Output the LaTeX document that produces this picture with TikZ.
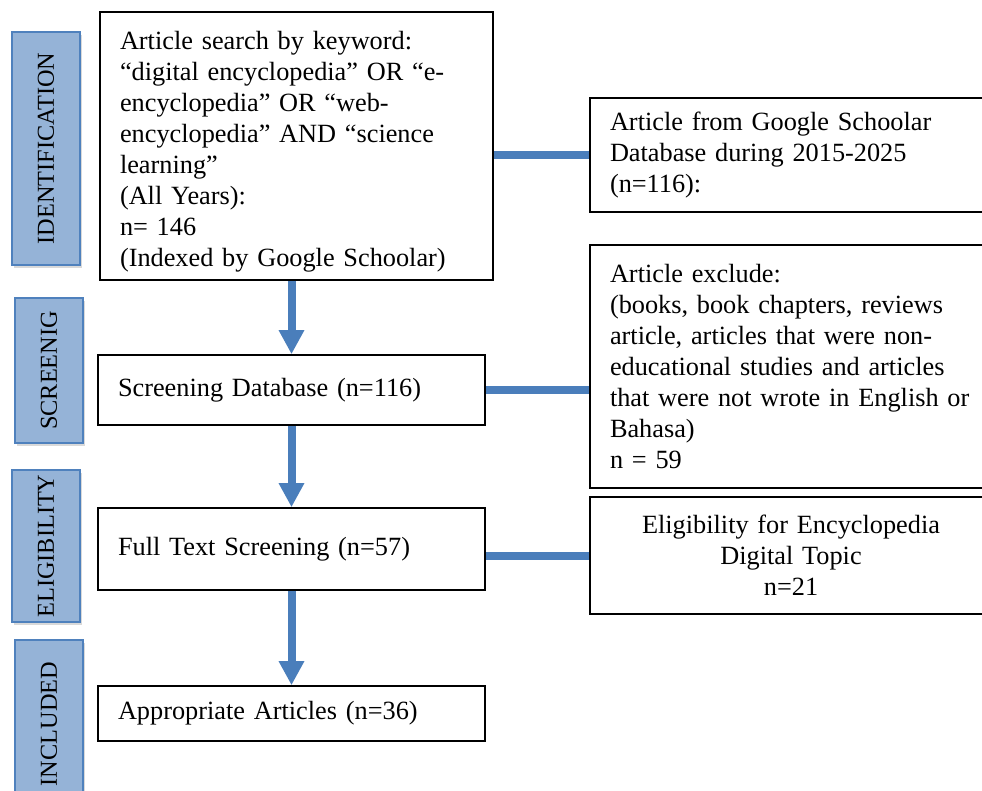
\documentclass[tikz,border=0pt]{standalone}
\usepackage{fontspec}
\setmainfont{Liberation Serif}
\usepackage{graphicx}
\usetikzlibrary{arrows.meta,shadows}
\definecolor{sidefill}{HTML}{95B3D7}
\definecolor{sideedge}{HTML}{4F81BD}
\definecolor{flowblue}{HTML}{4A7EBB}
\tikzset{%
    stage/.style={%
        draw=sideedge, line width=1.5pt, fill=sidefill, inner sep=0pt,
        drop shadow={shadow xshift=2pt, shadow yshift=-3pt, opacity=0.3},
        font=\fontsize{24.3}{28}\selectfont
    },
    box/.style={%
        draw, line width=1.6pt, inner xsep=20pt, inner ysep=0pt, align=left,
        font=\fontsize{26.3}{31}\selectfont
    },
    flow/.style={%
        flowblue, line width=8pt, -{Triangle[width=24pt,length=24pt]}
    },
    link/.style={%
        flowblue, line width=8pt
    }
}

\begin{document}
\begin{tikzpicture}[x=1pt, y=-1pt]
    \useasboundingbox (0,0) rectangle (982,791);
    \clip (0,0) rectangle (982,791);

    % stage tags on the left
    \node[stage, minimum width=68, minimum height=233] (identtag) at (46,148.5) {\rotatebox{90}{IDENTIFICATION}};
    \node[stage, minimum width=68, minimum height=145] (screentag) at (49,370.5) {\rotatebox{90}{SCREENIG}};
    \node[stage, minimum width=68, minimum height=152] (eligtag) at (46,546) {\rotatebox{90}{ELIGIBILITY}};
    \node[stage, minimum width=68, minimum height=186] (incltag) at (49,733) {};
    \node[rotate=90, inner sep=0pt, font=\fontsize{24.3}{28}\selectfont] (incltext) at (49,724) {INCLUDED};

    % main column
    \node[box, text width=353, minimum height=268] (search) at (296.5,146) {%
        \rule{0pt}{30pt}Article search by keyword:\\
        “digital encyclopedia” OR “e-\\
        encyclopedia” OR “web-\\
        encyclopedia” AND “science\\
        learning”\\
        (All Years):\\
        n= 146\\
        (Indexed by Google Schoolar)};
    \node[box, text width=347, minimum height=70] (screen) at (291.5,390) {Screening Database (n=116)};
    \node[box, text width=347, minimum height=82] (fulltext) at (291.5,549) {Full Text Screening (n=57)};
    \node[box, text width=347, minimum height=55] (include) at (291.5,713.5) {Appropriate Articles (n=36)};

    % right column
    \node[box, text width=380, minimum height=114] (source) at (800,155) {%
        Article from Google Schoolar\\
        Database during 2015-2025\\
        (n=116):};
    \node[box, text width=380, minimum height=243] (exclude) at (800,366.5) {%
        Article exclude:\\
        (books, book chapters, reviews\\
        article, articles that were non-\\
        educational studies and articles\\
        that were not wrote in English or\\
        Bahasa)\\
        n = 59};
    \node[box, align=center, text width=362, minimum height=117] (topic) at (791,555.5) {%
        Eligibility for Encyclopedia\\
        Digital Topic\\
        n=21};

    \draw[flow] (search.south -| screen.north) -- (screen.north);
    \draw[flow] (screen) -- (fulltext);
    \draw[flow] (fulltext) -- (include);

    \draw[link]
        (search.east |- source.west) -- (source.west)
        (screen.east) -- (screen.east -| exclude.west)
        (fulltext.east |- topic.west) -- (topic.west);
\end{tikzpicture}
\end{document}
